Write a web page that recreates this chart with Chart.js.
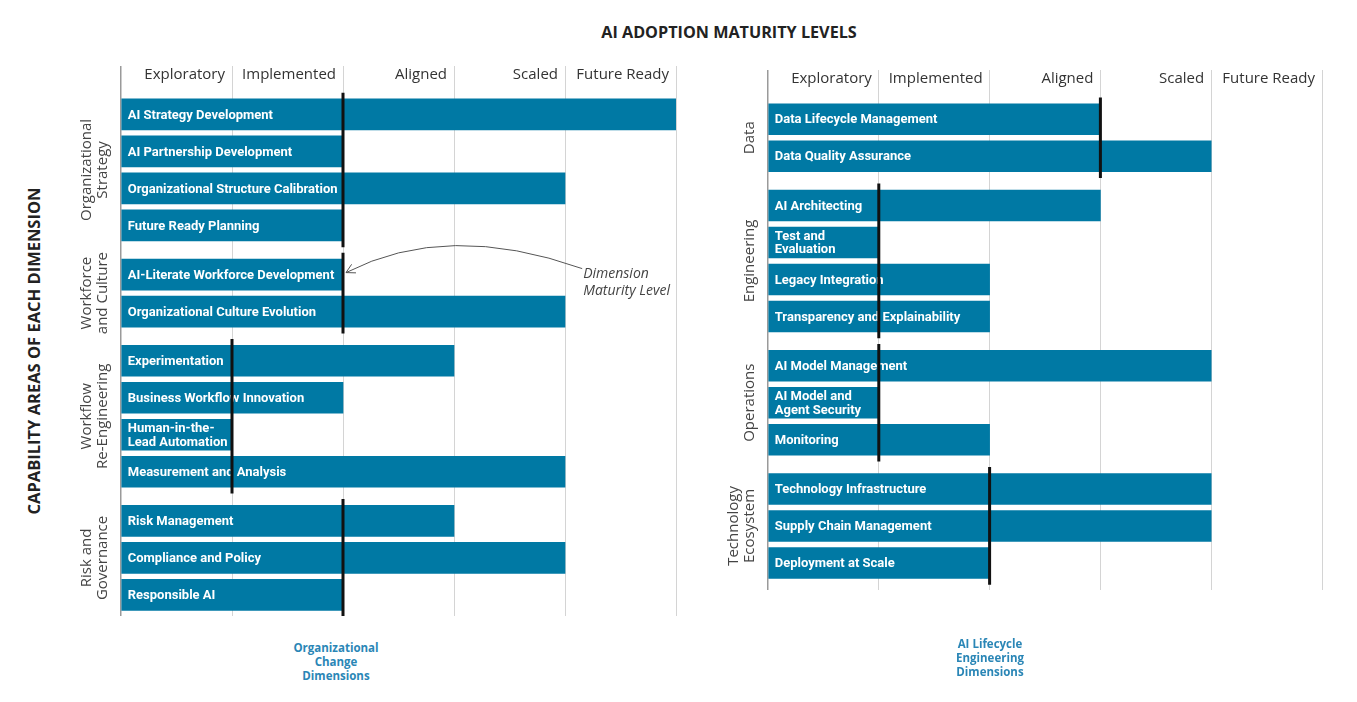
<!DOCTYPE html>
<html>
<head>
<meta charset="utf-8">
<script src="https://cdn.jsdelivr.net/npm/chart.js@4.4.1/dist/chart.umd.min.js"></script>
<style>
  html, body { margin: 0; padding: 0; background: #fff; }
  body { width: 1357px; height: 702px; position: relative; overflow: hidden; font-family: "Open Sans", sans-serif; }
  .title { position: absolute; left: 729px; top: 21px; transform: translateX(-50%); white-space: nowrap; font-weight: 700; font-size: 16.2px; line-height: 22px; color: #222; }
  .ytitle { position: absolute; left: 33px; top: 351px; transform: translate(-50%, -50%) rotate(-90deg); white-space: nowrap; font-weight: 700; font-size: 16.5px; color: #222; }
  .panel { position: absolute; top: 0; height: 640px; }
  #leftPanel { left: 0; width: 700px; }
  #rightPanel { left: 700px; width: 657px; }
  .caption { position: absolute; transform: translateX(-50%); text-align: center; white-space: nowrap; font-weight: 700; font-size: 11.5px; line-height: 14px; color: #2a86b6; }
</style>
</head>
<body>
<div class="title">AI ADOPTION MATURITY LEVELS</div>
<div class="ytitle">CAPABILITY AREAS OF EACH DIMENSION</div>
<div class="panel" id="leftPanel"><canvas id="orgChart"></canvas></div>
<div class="panel" id="rightPanel"><canvas id="lifeChart"></canvas></div>
<div class="caption" style="left:336px; top:641px">Organizational<br>Change<br>Dimensions</div>
<div class="caption" style="left:990px; top:637px">AI Lifecycle<br>Engineering<br>Dimensions</div>

<script>
const Chart = window.Chart

// maturity levels along the top axis (0 = axis origin, no label)
const levels = ["", "Exploratory", "Implemented", "Aligned", "Scaled", "Future Ready"]

// --- Organizational change dimensions (left) ---
const orgGroups = ["Organizational\nStrategy", "Workforce\nand Culture", "Workflow\nRe-Engineering", "Risk and\nGovernance"]
const orgAreas = [
  ["AI Strategy Development", "AI Partnership Development", "Organizational Structure Calibration", "Future Ready Planning"],
  ["AI-Literate Workforce Development", "Organizational Culture Evolution"],
  ["Experimentation", "Business Workflow Innovation", "Human-in-the-\nLead Automation", "Measurement and Analysis"],
  ["Risk Management", "Compliance and Policy", "Responsible AI"],
]
const orgAreaLevels = [[5, 2, 4, 2], [2, 4], [3, 2, 1, 4], [3, 4, 2]]
const orgDimensionLevels = [2, 2, 1, 2]

// --- AI lifecycle engineering dimensions (right) ---
const lifeGroups = ["Data", "Engineering", "Operations", "Technology\nEcosystem"]
const lifeAreas = [
  ["Data Lifecycle Management", "Data Quality Assurance"],
  ["AI Architecting", "Test and\nEvaluation", "Legacy Integration", "Transparency and Explainability"],
  ["AI Model Management", "AI Model and\nAgent Security", "Monitoring"],
  ["Technology Infrastructure", "Supply Chain Management", "Deployment at Scale"],
]
const lifeAreaLevels = [[3, 4], [3, 1, 2, 2], [4, 1, 2], [4, 4, 2]]
const lifeDimensionLevels = [3, 1, 1, 2]

const BAR_COLOR = "#0079a4"
const GROUP_GAP = 0.33 // extra space between dimensions, in rows
const LINE_REACH = 0.59 // maturity line overhang past first/last bar centre

function makePanel(canvasId, groups, areas, areaLevels, dimLevels, layout) {
  // row positions: one unit per row, plus a gap between groups
  const groupRows = []
  const pos = []
  const names = []
  const values = []
  let row = 0
  areas.forEach((g, gi) => {
    const rows = []
    g.forEach((name, k) => {
      const p = row + gi * GROUP_GAP
      rows.push(p)
      pos.push(p)
      names.push(name)
      values.push(areaLevels[gi][k])
      row++
    })
    groupRows.push(rows)
  })

  const datasets = [
    {
      type: "bar",
      data: pos.map((p, i) => ({ x: values[i], y: p })),
      backgroundColor: BAR_COLOR,
      barThickness: 31,
      order: 1,
    },
  ]
  // dimension maturity level: thick black line across each group
  groupRows.forEach((rows, gi) => {
    datasets.push({
      type: "line",
      indexAxis: "y",
      data: [
        { x: dimLevels[gi], y: rows[0] - LINE_REACH },
        { x: dimLevels[gi], y: rows[rows.length - 1] + LINE_REACH },
      ],
      borderColor: "#111",
      borderWidth: 3,
      borderCapStyle: "butt",
      pointRadius: 0,
      order: 0,
    })
  })

  const barLabels = {
    id: "barLabels",
    afterDatasetDraw(chart, args) {
      if (args.meta.type !== "bar") return
      const { ctx } = chart
      ctx.save()
      ctx.fillStyle = "#fff"
      ctx.font = "bold 13px Roboto"
      ctx.textBaseline = "middle"
      args.meta.data.forEach((bar, i) => {
        const lines = names[i].split("\n")
        lines.forEach((t, j) => {
          ctx.fillText(t, bar.base + 6, bar.y + 1 + (j - (lines.length - 1) / 2) * 13.5)
        })
      })
      ctx.restore()
    },
  }

  const groupLabels = {
    id: "groupLabels",
    afterDraw(chart) {
      const { ctx, chartArea } = chart
      const ys = chart.scales.y
      ctx.save()
      ctx.fillStyle = "#444"
      ctx.font = "15px 'Open Sans'"
      ctx.textAlign = "center"
      ctx.textBaseline = "middle"
      groups.forEach((label, gi) => {
        const rows = groupRows[gi]
        const yc = (ys.getPixelForValue(rows[0]) + ys.getPixelForValue(rows[rows.length - 1])) / 2
        const lines = label.split("\n")
        ctx.save()
        ctx.translate(chartArea.left - 18, yc)
        ctx.rotate(-Math.PI / 2)
        lines.forEach((t, j) => ctx.fillText(t, 0, (j - (lines.length - 1)) * 16))
        ctx.restore()
      })
      ctx.restore()
    },
  }

  const plugins = [barLabels, groupLabels]

  if (layout.pointer) {
    // "Dimension Maturity Level" callout with curved arrow
    plugins.push({
      id: "pointer",
      afterDraw(chart) {
        const { ctx } = chart
        const xs = chart.scales.x
        const ys = chart.scales.y
        const p = layout.pointer
        const tipX = xs.getPixelForValue(p.level) + 3
        const tipY = ys.getPixelForValue(pos[p.row]) - 2
        const sx = xs.getPixelForValue(p.textAt) - 5
        const sy = tipY - 4
        const cx = (sx + tipX) / 2 - 17
        const cy = tipY - 52
        ctx.save()
        ctx.strokeStyle = "#555"
        ctx.lineWidth = 1
        ctx.beginPath()
        ctx.moveTo(sx, sy)
        ctx.quadraticCurveTo(cx, cy, tipX, tipY)
        ctx.stroke()
        const a = Math.atan2(tipY - cy, tipX - cx)
        ctx.beginPath()
        ctx.moveTo(tipX - 10 * Math.cos(a - 0.5), tipY - 10 * Math.sin(a - 0.5))
        ctx.lineTo(tipX, tipY)
        ctx.lineTo(tipX - 10 * Math.cos(a + 0.5), tipY - 10 * Math.sin(a + 0.5))
        ctx.stroke()
        ctx.fillStyle = "#444"
        ctx.font = "italic 14px 'Open Sans'"
        ctx.textBaseline = "middle"
        ctx.fillText(p.text[0], sx + 1, tipY + 1)
        ctx.fillText(p.text[1], sx + 1, tipY + 18)
        ctx.restore()
      },
    })
  }

  return new Chart(document.getElementById(canvasId), {
    type: "bar",
    data: { datasets },
    plugins,
    options: {
      indexAxis: "y",
      responsive: true,
      maintainAspectRatio: false,
      animation: false,
      layout: { padding: layout.padding },
      scales: {
        x: {
          type: "linear",
          position: "top",
          min: 0,
          max: 5,
          offset: false,
          border: { display: false },
          grid: {
            drawTicks: false,
            offset: false,
            color: (c) => (c.tick && c.tick.value === 0 ? "#9a9a9a" : "#d4d4d4"),
            lineWidth: (c) => (c.tick && c.tick.value === 0 ? 1.5 : 1),
          },
          ticks: {
            stepSize: 1,
            mirror: true,
            align: "end",
            labelOffset: -7,
            padding: 0,
            autoSkip: false,
            minRotation: 0,
            maxRotation: 0,
            color: "#333",
            font: { family: "'Open Sans'", size: 15 },
            callback: (v) => levels[v],
          },
        },
        y: {
          type: "linear",
          reverse: true,
          min: layout.yMin,
          max: layout.yMax,
          offset: false,
          display: false,
        },
      },
      plugins: {
        legend: { display: false },
        tooltip: { enabled: false },
      },
    },
  })
}

makePanel("orgChart", orgGroups, orgAreas, orgAreaLevels, orgDimensionLevels, {
  padding: { left: 121, right: 24, top: 66, bottom: 24 },
  yMin: -1.31,
  yMax: 13.56,
  pointer: { level: 2, row: 4, textAt: 4.2, text: ["Dimension", "Maturity Level"] },
})

makePanel("lifeChart", lifeGroups, lifeAreas, lifeAreaLevels, lifeDimensionLevels, {
  padding: { left: 68, right: 35, top: 70, bottom: 50 },
  yMin: -1.33,
  yMax: 12.72,
})
</script>
</body>
</html>
